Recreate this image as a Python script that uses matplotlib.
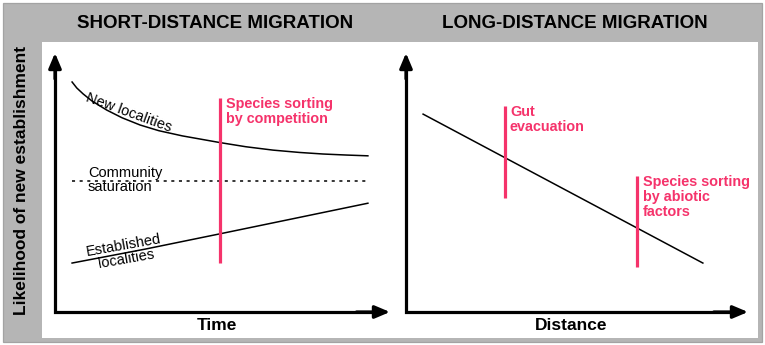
import matplotlib
matplotlib.use('Agg')
import matplotlib.pyplot as plt
from matplotlib.patches import Rectangle

plt.rcParams['font.family'] = ['Liberation Sans', 'DejaVu Sans']

W, H = 765, 345

# Short-distance panel (time axis 0..10, likelihood 0..10)
time_new = [0.51, 0.65, 0.84, 1.1, 1.54, 2.0, 2.54, 3.1, 3.8, 4.93, 5.7, 6.51, 7.3, 8.0, 8.7, 9.34]
new_localities = [8.88, 8.65, 8.42, 8.15, 7.80, 7.50, 7.22, 7.00, 6.80, 6.54, 6.38, 6.25, 6.16,
                  6.10, 6.06, 6.03]
time_sat = [0.51, 9.34]
saturation = [5.05, 5.05]
time_est = [0.51, 2.7, 4.93, 7.1, 9.34]
established = [1.89, 2.43, 3.02, 3.60, 4.20]
competition_x = [4.93, 4.93]
competition_y = [1.89, 8.26]

# Long-distance panel (distance axis 0..10, likelihood 0..10)
distance = [0.50, 8.68]
likelihood = [7.64, 1.89]
gut_x = [2.89, 2.89]
gut_y = [4.40, 7.95]
abiotic_x = [6.75, 6.75]
abiotic_y = [1.74, 5.25]

titles = ['SHORT-DISTANCE MIGRATION', 'LONG-DISTANCE MIGRATION']
xlabels = ['Time', 'Distance']
ylabel = 'Likelihood of new establishment'

PINK = '#f5336b'
GRAY = '#b5b5b5'


def px_box(l, t, r, b):
    return [l / W, 1 - b / H, (r - l) / W, (b - t) / H]


def fx(px):
    return px / W


def fy(py):
    return 1 - py / H


def draw_axes(ax):
    ax.set_xlim(0, 10)
    ax.set_ylim(0, 10)
    ax.axis('off')
    ax.plot([0, 0, 0.97], [0.97, 0, 0], transform=ax.transAxes, color='black',
            lw=2.3, clip_on=False, solid_joinstyle='miter', solid_capstyle='butt')
    arrow = dict(arrowstyle='-|>,head_length=0.45,head_width=0.19', color='black',
                 lw=2.3, shrinkA=0, shrinkB=0, mutation_scale=20)
    ax.annotate('', xy=(0, 1), xytext=(0, 0.9), xycoords='axes fraction', arrowprops=arrow)
    ax.annotate('', xy=(1, 0), xytext=(0.9, 0), xycoords='axes fraction', arrowprops=arrow)


fig = plt.figure(figsize=(7.65, 3.45), dpi=100)

# Frame
fig.add_artist(Rectangle((fx(3), fy(342)), 759 / W, 339 / H, transform=fig.transFigure,
                         facecolor=GRAY, edgecolor='#a3a3a3', lw=0.9, zorder=0))
fig.add_artist(Rectangle((fx(42), fy(338)), 716 / W, 296 / H, transform=fig.transFigure,
                         facecolor='white', edgecolor='none', zorder=0))

ax1 = fig.add_axes(px_box(55, 53, 390, 312))
ax2 = fig.add_axes(px_box(406, 53, 748, 312))
for ax in (ax1, ax2):
    draw_axes(ax)

# Left panel
ax1.plot(time_new, new_localities, color='black', lw=1.1)
ax1.plot(time_sat, saturation, color='black', lw=1.1, linestyle=(0, (2, 3)))
ax1.plot(time_est, established, color='black', lw=1.1)
ax1.plot(competition_x, competition_y, color=PINK, lw=2.3, solid_capstyle='butt')

# Right panel
ax2.plot(distance, likelihood, color='black', lw=1.1)
ax2.plot(gut_x, gut_y, color=PINK, lw=2.3, solid_capstyle='butt')
ax2.plot(abiotic_x, abiotic_y, color=PINK, lw=2.3, solid_capstyle='butt')

# Titles and labels
fig.text(fx(215), fy(23), titles[0], ha='center', va='center', fontsize=13.5, fontweight='bold')
fig.text(fx(575), fy(23), titles[1], ha='center', va='center', fontsize=13.5, fontweight='bold')
fig.text(fx(22), fy(180), ylabel, ha='center', va='center', rotation=90, fontsize=12.5,
         fontweight='bold')
fig.text(fx(217), fy(326), xlabels[0], ha='center', va='center', fontsize=12.5, fontweight='bold')
fig.text(fx(571), fy(326), xlabels[1], ha='center', va='center', fontsize=12.5, fontweight='bold')

# Curve annotations
fig.text(fx(129), fy(113), 'New localities', ha='center', va='center', rotation=-20, fontsize=10.5)
fig.text(fx(88), fy(180), 'Community\nsaturation', ha='left', va='center', fontsize=10.5,
         linespacing=1.0)
fig.text(fx(125), fy(252), 'Established\nlocalities', ha='center', va='center', rotation=10,
         fontsize=10.5, linespacing=1.0)

fig.text(fx(226), fy(97), 'Species sorting\nby competition', ha='left', va='top', color=PINK,
         fontsize=10.4, fontweight='bold', linespacing=1.1)
fig.text(fx(510), fy(105), 'Gut\nevacuation', ha='left', va='top', color=PINK,
         fontsize=10.4, fontweight='bold', linespacing=1.1)
fig.text(fx(643), fy(175), 'Species sorting\nby abiotic\nfactors', ha='left', va='top', color=PINK,
         fontsize=10.4, fontweight='bold', linespacing=1.1)

fig.savefig('out.png', dpi=100)
